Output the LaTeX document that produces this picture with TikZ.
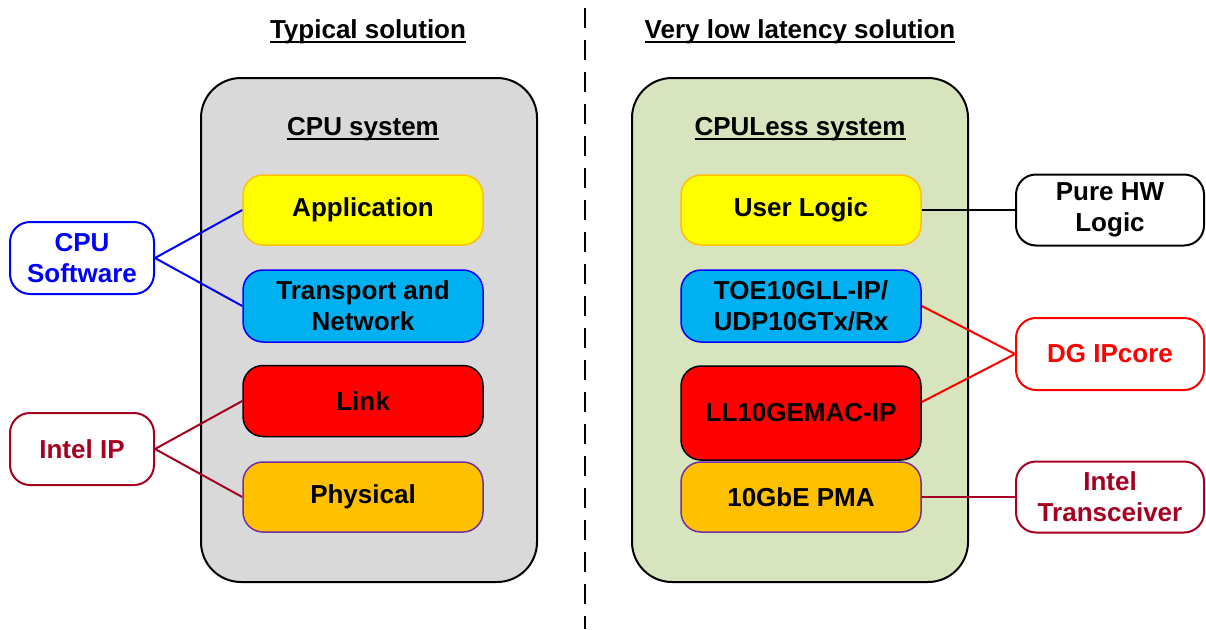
\documentclass[tikz,border=0pt]{standalone}
\usepackage{fontspec}
\setmainfont{Liberation Sans}
\usetikzlibrary{positioning}
\definecolor{sysgray}{HTML}{D9D9D9}
\definecolor{sysgreen}{HTML}{D7E4BD}
\definecolor{appyellow}{HTML}{FFFF00}
\definecolor{appedge}{HTML}{FFC000}
\definecolor{netblue}{HTML}{00B0F0}
\definecolor{phyorange}{HTML}{FFC000}
\definecolor{phyedge}{HTML}{7030A0}
\definecolor{intelred}{HTML}{A50021}
\newcommand{\titleul}[1]{\setbox0\hbox{#1}\rlap{\rule[-5pt]{\wd0}{2pt}}\box0}
\begin{document}
\begin{tikzpicture}[x=1pt,y=-1pt,
	every node/.style={font=\bfseries\fontsize{26}{31}\selectfont, align=center, inner sep=0pt},
	system/.style={rectangle, rounded corners=40pt, minimum width=336pt, minimum height=504pt, line width=2pt, draw=black},
	layer/.style={rectangle, rounded corners=20pt, minimum width=240pt, minimum height=70pt, line width=1.5pt},
	side/.style={rectangle, rounded corners=20pt, minimum height=72pt, line width=2pt, fill=white, draw},
	heading/.style={anchor=base},
	wire/.style={line width=2pt}]
	\useasboundingbox (0,0) rectangle (1206,629);
	% separator
	\coordinate (sepTop) at (585,8);
	\coordinate (sepBot) at (585,629);
	\draw [line width=2.5pt, dash pattern=on 20pt off 12pt] (sepTop) -- (sepBot);
	\node [heading] (typTitle) at (368,38) {\titleul{Typical solution}};
	\node [heading] (vllTitle) at (800,38) {\titleul{Very low latency solution}};
	% systems
	\node [system, fill=sysgray] (cpuSys) at (369,330) {};
	\node [system, fill=sysgreen] (cpuLess) at (800,330) {};
	\node [heading] (cpuSysTitle) at (363,135) {\titleul{CPU system}};
	\node [heading] (cpuLessTitle) at (800,135) {\titleul{CPULess system}};
	% typical layers
	\node [layer, fill=appyellow, draw=appedge] (app) at (363,210) {Application};
	\node [layer, fill=netblue, draw=blue, minimum height=72pt] (net) at (363,306) {Transport and\\Network};
	\node [layer, fill=red, draw=black, minimum height=71pt] (link) at (363,401) {Link};
	\node [layer, fill=phyorange, draw=phyedge] (phy) at (363,497) {Physical};
	% low latency layers
	\node [layer, fill=appyellow, draw=appedge] (user) at (801,210) {User Logic};
	\node [layer, fill=netblue, draw=blue, minimum height=72pt] (toe) at (801,306) {TOE10GLL-IP/\\UDP10GTx/Rx};
	\node [layer, fill=red, draw=black, minimum height=94pt] (mac) at (801,413) {LL10GEMAC-IP};
	\node [layer, fill=phyorange, draw=phyedge] (pma) at (801,497) {10GbE PMA};
	% side labels
	\node [side, draw=blue, text=blue, minimum width=144pt] (cpuSw) at (82,258) {CPU\\Software};
	\node [side, draw=intelred, text=intelred, minimum width=144pt] (intelIp) at (82,449) {Intel IP};
	\node [side, draw=black, minimum width=188pt, minimum height=71pt] (pureHw) at (1110,210) {Pure HW\\Logic};
	\node [side, draw=red, text=red, minimum width=188pt] (dgIp) at (1110,354) {DG IPcore};
	\node [side, draw=intelred, text=intelred, minimum width=188pt, minimum height=71pt] (trans) at (1110,497) {Intel\\Transceiver};
	% connectors
	\draw [wire, blue] (cpuSw.east) -- (app.west);
	\draw [wire, blue] (cpuSw.east) -- (net.west);
	\draw [wire, intelred] (intelIp.east) -- (link.west);
	\draw [wire, intelred] (intelIp.east) -- (phy.west);
	\draw [wire, black] (user.east) -- (pureHw.west);
	\draw [wire, red] (toe.east) -- (dgIp.west);
	\draw [wire, red] ([yshift=11pt]mac.east) -- (dgIp.west);
	\draw [wire, intelred] (pma.east) -- (trans.west);
\end{tikzpicture}
\end{document}
